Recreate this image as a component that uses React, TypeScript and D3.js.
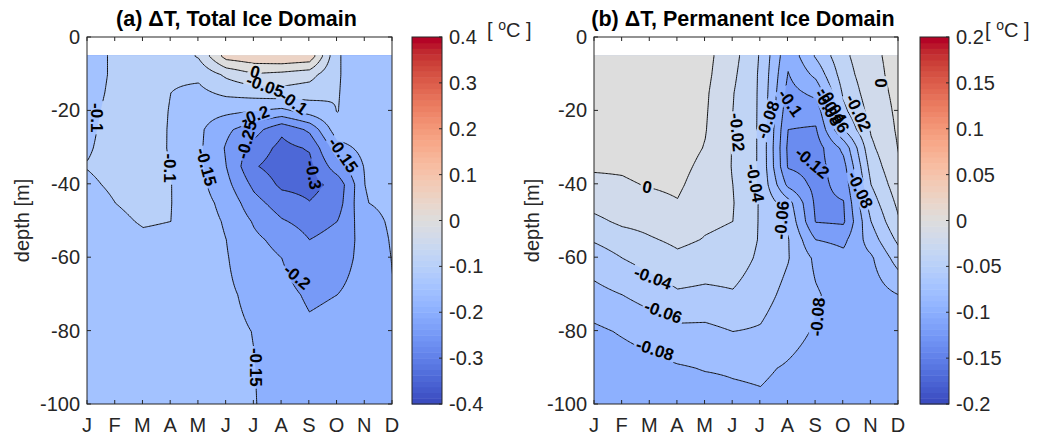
import React, { useMemo } from "react";
import * as d3 from "d3";

// ---------------- data ----------------
const monthLabels = ["J", "F", "M", "A", "M", "J", "J", "A", "S", "O", "N", "D"];
const depthLevels = [5, 10, 15, 20, 25, 30, 35, 40, 45, 50, 55, 60, 70, 80, 90, 100];
const depthTicks = [0, 20, 40, 60, 80, 100];

// (a) ΔT, total ice domain — one row per month (Jan..Dec), values at depthLevels (°C)
const totalIceDT: number[][] = [
  [-0.110, -0.110, -0.108, -0.106, -0.104, -0.102, -0.099, -0.104, -0.110, -0.116, -0.121, -0.125, -0.130, -0.134, -0.137, -0.140],
  [-0.096, -0.096, -0.095, -0.093, -0.092, -0.092, -0.093, -0.096, -0.100, -0.107, -0.114, -0.119, -0.127, -0.132, -0.136, -0.139],
  [-0.085, -0.085, -0.083, -0.082, -0.082, -0.083, -0.084, -0.087, -0.091, -0.097, -0.106, -0.113, -0.122, -0.129, -0.134, -0.137],
  [-0.085, -0.093, -0.100, -0.102, -0.103, -0.103, -0.101, -0.099, -0.099, -0.100, -0.108, -0.115, -0.124, -0.130, -0.134, -0.137],
  [-0.045, -0.090, -0.112, -0.130, -0.140, -0.140, -0.138, -0.135, -0.130, -0.128, -0.127, -0.128, -0.132, -0.135, -0.137, -0.139],
  [0.070, -0.040, -0.090, -0.140, -0.190, -0.205, -0.200, -0.185, -0.165, -0.155, -0.150, -0.147, -0.143, -0.141, -0.140, -0.139],
  [0.085, -0.005, -0.080, -0.150, -0.230, -0.270, -0.295, -0.262, -0.232, -0.205, -0.190, -0.180, -0.160, -0.151, -0.149, -0.148],
  [0.095, -0.015, -0.070, -0.165, -0.290, -0.315, -0.325, -0.310, -0.275, -0.245, -0.215, -0.200, -0.185, -0.175, -0.170, -0.168],
  [0.085, -0.030, -0.080, -0.130, -0.240, -0.295, -0.315, -0.315, -0.298, -0.268, -0.250, -0.235, -0.207, -0.192, -0.185, -0.180],
  [-0.097, -0.097, -0.098, -0.099, -0.120, -0.170, -0.220, -0.285, -0.275, -0.250, -0.235, -0.225, -0.200, -0.185, -0.175, -0.170],
  [-0.120, -0.120, -0.120, -0.122, -0.125, -0.135, -0.146, -0.150, -0.152, -0.170, -0.180, -0.182, -0.180, -0.175, -0.170, -0.168],
  [-0.125, -0.125, -0.125, -0.126, -0.127, -0.129, -0.132, -0.135, -0.138, -0.142, -0.145, -0.148, -0.152, -0.155, -0.157, -0.158],
];

// (b) ΔT, permanent ice domain
const permanentIceDT: number[][] = [
  [0.010, 0.010, 0.010, 0.008, 0.007, 0.005, 0.002, -0.004, -0.013, -0.025, -0.038, -0.050, -0.066, -0.084, -0.093, -0.097],
  [0.011, 0.011, 0.011, 0.010, 0.008, 0.006, 0.002, -0.002, -0.006, -0.016, -0.030, -0.040, -0.060, -0.078, -0.090, -0.096],
  [0.012, 0.012, 0.012, 0.011, 0.010, 0.008, 0.005, 0.001, -0.005, -0.013, -0.022, -0.032, -0.052, -0.072, -0.086, -0.092],
  [0.012, 0.012, 0.012, 0.012, 0.011, 0.009, 0.006, 0.003, -0.001, -0.007, -0.016, -0.024, -0.043, -0.065, -0.082, -0.090],
  [0.006, 0.005, 0.003, 0.002, 0.001, -0.001, -0.005, -0.009, -0.013, -0.017, -0.021, -0.028, -0.045, -0.065, -0.079, -0.090],
  [-0.013, -0.016, -0.019, -0.020, -0.021, -0.021, -0.021, -0.020, -0.019, -0.020, -0.024, -0.029, -0.042, -0.060, -0.078, -0.085],
  [-0.042, -0.043, -0.043, -0.043, -0.043, -0.043, -0.043, -0.043, -0.042, -0.042, -0.042, -0.044, -0.052, -0.062, -0.077, -0.083],
  [-0.095, -0.101, -0.107, -0.113, -0.120, -0.124, -0.122, -0.105, -0.072, -0.064, -0.059, -0.059, -0.066, -0.073, -0.082, -0.087],
  [-0.058, -0.075, -0.095, -0.112, -0.122, -0.130, -0.128, -0.126, -0.124, -0.121, -0.100, -0.084, -0.078, -0.082, -0.088, -0.092],
  [-0.025, -0.030, -0.037, -0.045, -0.060, -0.095, -0.107, -0.114, -0.121, -0.123, -0.105, -0.094, -0.088, -0.088, -0.090, -0.093],
  [-0.004, -0.006, -0.009, -0.013, -0.018, -0.024, -0.032, -0.040, -0.050, -0.060, -0.070, -0.083, -0.090, -0.091, -0.092, -0.094],
  [0.006, 0.006, 0.005, 0.004, 0.003, 0.001, -0.002, -0.008, -0.015, -0.022, -0.035, -0.050, -0.080, -0.088, -0.092, -0.095],
];

const totalIceLevels = [-0.4, -0.35, -0.3, -0.25, -0.2, -0.15, -0.1, -0.05, 0, 0.05, 0.1, 0.15, 0.2, 0.25, 0.3, 0.35, 0.4];
const permanentIceLevels = [-0.2, -0.18, -0.16, -0.14, -0.12, -0.1, -0.08, -0.06, -0.04, -0.02, 0, 0.02, 0.04, 0.06, 0.08, 0.1, 0.12, 0.14, 0.16, 0.18, 0.2];
const totalIceColorTicks = [0.4, 0.3, 0.2, 0.1, 0, -0.1, -0.2, -0.3, -0.4];
const permanentIceColorTicks = [0.2, 0.15, 0.1, 0.05, 0, -0.05, -0.1, -0.15, -0.2];

// contour labels: text, month position, depth, rotation
type Lbl = { text: string; month: number; depth: number; angle: number };
const totalIceLabels: Lbl[] = [
  { text: "0", month: 7.06, depth: 9.6, angle: 15 },
  { text: "-0.05", month: 7.42, depth: 13.4, angle: 20 },
  { text: "-0.1", month: 8.45, depth: 17.9, angle: 35 },
  { text: "-0.2", month: 7.06, depth: 21.5, angle: -20 },
  { text: "-0.25", month: 6.77, depth: 28, angle: -75 },
  { text: "-0.3", month: 9.15, depth: 37.6, angle: 80 },
  { text: "-0.15", month: 5.29, depth: 35.4, angle: 75 },
  { text: "-0.15", month: 10.23, depth: 32.2, angle: 55 },
  { text: "-0.1", month: 1.36, depth: 22, angle: 90 },
  { text: "-0.1", month: 3.99, depth: 35.7, angle: 90 },
  { text: "-0.2", month: 8.57, depth: 65.4, angle: 40 },
  { text: "-0.15", month: 7.06, depth: 90, angle: 90 },
];
const permanentIceLabels: Lbl[] = [
  { text: "0", month: 2.92, depth: 41, angle: 10 },
  { text: "-0.02", month: 6.17, depth: 26, angle: 85 },
  { text: "-0.04", month: 6.82, depth: 39.8, angle: 80 },
  { text: "-0.08", month: 7.3, depth: 22.6, angle: -70 },
  { text: "-0.1", month: 8.09, depth: 18, angle: 55 },
  { text: "-0.12", month: 8.89, depth: 34.3, angle: 40 },
  { text: "-0.08", month: 9.47, depth: 19.3, angle: 60 },
  { text: "-0.04", month: 9.62, depth: 18.6, angle: 60 },
  { text: "-0.06", month: 9.72, depth: 21.2, angle: 60 },
  { text: "-0.02", month: 10.55, depth: 20.7, angle: 65 },
  { text: "0", month: 11.35, depth: 12.5, angle: 90 },
  { text: "-0.08", month: 10.62, depth: 41.7, angle: 65 },
  { text: "-0.06", month: 7.8, depth: 49.9, angle: -85 },
  { text: "-0.08", month: 9.1, depth: 76.3, angle: -85 },
  { text: "-0.04", month: 3.13, depth: 65.7, angle: 20 },
  { text: "-0.06", month: 3.5, depth: 75, angle: 20 },
  { text: "-0.08", month: 3.2, depth: 85.3, angle: 18 },
];

// Moreland cool-warm colour map stops
const coolwarmStops: [number, number, number][] = [
  [59, 76, 192], [68, 90, 204], [77, 104, 215], [87, 117, 225], [98, 130, 234], [108, 142, 241],
  [119, 154, 247], [130, 165, 251], [141, 176, 254], [152, 185, 255], [163, 194, 255], [174, 201, 253],
  [184, 208, 249], [194, 213, 244], [204, 217, 238], [213, 219, 230], [221, 221, 221], [229, 216, 209],
  [236, 211, 197], [241, 204, 184], [245, 196, 173], [247, 187, 160], [247, 177, 148], [247, 166, 135],
  [244, 154, 123], [241, 141, 111], [236, 127, 99], [229, 112, 88], [222, 96, 77], [213, 80, 66],
  [203, 62, 56], [192, 40, 47], [180, 4, 38],
];

// ---------------- helpers ----------------
const NCOL = 64;
function coolwarmAt(t: number) {
  const n = coolwarmStops.length - 1;
  const x = Math.max(0, Math.min(1, t)) * n;
  const i = Math.min(n - 1, Math.floor(x));
  const f = x - i;
  const a = coolwarmStops[i], b = coolwarmStops[i + 1];
  return `rgb(${Math.round(a[0] + (b[0] - a[0]) * f)},${Math.round(a[1] + (b[1] - a[1]) * f)},${Math.round(a[2] + (b[2] - a[2]) * f)})`;
}
function colorFor(v: number, lo: number, hi: number) {
  return coolwarmAt((v - lo) / (hi - lo));
}

function sampleField(cols: number[][], depths: number[]) {
  const m0 = 0.8, dm = 0.05, nx = Math.round((12.2 - 0.8) / dm) + 1;
  const d0 = 4, dd = 0.5, ny = Math.round((101 - 4) / dd) + 1;
  const values = new Array(nx * ny);
  for (let j = 0; j < ny; j++) {
    const depth = Math.max(depths[0], Math.min(depths[depths.length - 1], d0 + j * dd));
    let k = 0;
    while (k < depths.length - 2 && depth > depths[k + 1]) k++;
    const fd = (depth - depths[k]) / (depths[k + 1] - depths[k]);
    for (let i = 0; i < nx; i++) {
      const c = Math.max(0, Math.min(11, m0 + i * dm - 1));
      const c0 = Math.min(10, Math.floor(c));
      const fc = c - c0;
      const v00 = cols[c0][k], v01 = cols[c0][k + 1];
      const v10 = cols[c0 + 1][k], v11 = cols[c0 + 1][k + 1];
      const a = v00 + (v01 - v00) * fd;
      const b = v10 + (v11 - v10) * fd;
      values[j * nx + i] = a + (b - a) * fc;
    }
  }
  return { values, nx, ny, m0, dm, d0, dd };
}

function labelWidth(s: string, size: number) {
  let w = 0;
  for (const ch of s) w += ch === "-" ? 0.333 : ch === "." ? 0.278 : 0.556;
  return w * size;
}

const FONT = "'Liberation Sans', Arial, Helvetica, sans-serif";
const AXC = "#262626";
const TICK_FS = 20;

type PanelProps = {
  id: string;
  x0: number; x1: number; y0: number; y1: number;
  data: number[][];
  levels: number[];
  lo: number; hi: number;
  labels: Lbl[];
  title: string;
  cbX0: number; cbX1: number;
  cbTicks: number[];
  ylabelX: number;
  unitX: number;
};

function Panel(p: PanelProps) {
  const xs = d3.scaleLinear().domain([1, 12]).range([p.x0, p.x1]);
  const ys = d3.scaleLinear().domain([0, 100]).range([p.y0, p.y1]);
  const field = useMemo(() => sampleField(p.data, depthLevels), [p.data]);
  const contours = useMemo(
    () => d3.contours().size([field.nx, field.ny]).thresholds(p.levels)(field.values),
    [field, p.levels]
  );
  const path = d3.geoPath(
    d3.geoTransform({
      point(x: number, y: number) {
        (this as any).stream.point(xs(field.m0 + x * field.dm), ys(field.d0 + y * field.dd));
      },
    })
  );
  const cx0 = xs(1), cx1 = xs(12), cy0 = ys(depthLevels[0]), cy1 = ys(100);
  const LF = 17;
  const cbScale = d3.scaleLinear().domain([p.lo, p.hi]).range([p.y1, p.y0]);
  const cbStep = (p.y1 - p.y0) / NCOL;
  const fmt = (v: number) => String(Math.round(v * 1000) / 1000);

  return (
    <g>
      <defs>
        <clipPath id={`clip-${p.id}`}>
          <rect x={cx0} y={cy0} width={cx1 - cx0} height={cy1 - cy0} />
        </clipPath>
        <mask id={`mask-${p.id}`} maskUnits="userSpaceOnUse" x={0} y={0} width={1049} height={438}>
          <rect x={0} y={0} width={1049} height={438} fill="white" />
          {p.labels.map((l, i) => {
            const w = labelWidth(l.text, LF) + 4;
            const h = LF * 0.9;
            return (
              <rect
                key={i}
                x={-w / 2}
                y={-h / 2}
                width={w}
                height={h}
                fill="black"
                transform={`translate(${xs(l.month)},${ys(l.depth)}) rotate(${l.angle})`}
              />
            );
          })}
        </mask>
      </defs>
      {/* filled contours */}
      <g clipPath={`url(#clip-${p.id})`}>
        {contours.map((c, i) => (
          <path key={i} d={path(c as any) || ""} fill={colorFor(c.value, p.lo, p.hi)} stroke="none" />
        ))}
        <g mask={`url(#mask-${p.id})`}>
          {contours.map((c, i) => (
            <path key={i} d={path(c as any) || ""} fill="none" stroke="#111" strokeWidth={1} strokeLinejoin="round" />
          ))}
        </g>
      </g>
      {/* contour labels */}
      {p.labels.map((l, i) => (
        <text
          key={i}
          transform={`translate(${xs(l.month)},${ys(l.depth)}) rotate(${l.angle})`}
          textAnchor="middle"
          dominantBaseline="central"
          fontFamily={FONT}
          fontWeight="bold"
          fontSize={LF}
          fill="#000"
        >
          {l.text}
        </text>
      ))}
      {/* axes box & ticks */}
      <rect x={p.x0} y={p.y0} width={p.x1 - p.x0} height={p.y1 - p.y0} fill="none" stroke={AXC} strokeWidth={1} />
      {monthLabels.map((m, i) => (
        <g key={i}>
          <line x1={xs(i + 1)} x2={xs(i + 1)} y1={p.y1} y2={p.y1 - 4} stroke={AXC} />
          <line x1={xs(i + 1)} x2={xs(i + 1)} y1={p.y0} y2={p.y0 + 4} stroke={AXC} />
          <text x={xs(i + 1)} y={p.y1 + 28} textAnchor="middle" fontFamily={FONT} fontSize={TICK_FS} fill={AXC}>
            {m}
          </text>
        </g>
      ))}
      {depthTicks.map((d, i) => (
        <g key={i}>
          <line x1={p.x0} x2={p.x0 + 4} y1={ys(d)} y2={ys(d)} stroke={AXC} />
          <line x1={p.x1} x2={p.x1 - 4} y1={ys(d)} y2={ys(d)} stroke={AXC} />
          <text x={p.x0 - 7} y={ys(d)} textAnchor="end" dominantBaseline="central" fontFamily={FONT} fontSize={TICK_FS} fill={AXC}>
            {d === 0 ? "0" : `-${d}`}
          </text>
        </g>
      ))}
      <text
        transform={`translate(${p.ylabelX},${(p.y0 + p.y1) / 2}) rotate(-90)`}
        textAnchor="middle"
        dominantBaseline="central"
        fontFamily={FONT}
        fontSize={TICK_FS}
        fill={AXC}
      >
        depth [m]
      </text>
      <text x={(p.x0 + p.x1) / 2 - 3} y={26} textAnchor="middle" fontFamily={FONT} fontWeight="bold" fontSize={21.5} fill="#000">
        {p.title}
      </text>
      {/* colorbar */}
      {d3.range(NCOL).map((i) => (
        <rect
          key={i}
          x={p.cbX0}
          y={p.y1 - (i + 1) * cbStep}
          width={p.cbX1 - p.cbX0}
          height={cbStep + 0.5}
          fill={coolwarmAt(i / (NCOL - 1))}
        />
      ))}
      <rect x={p.cbX0} y={p.y0} width={p.cbX1 - p.cbX0} height={p.y1 - p.y0} fill="none" stroke={AXC} strokeWidth={1} />
      {p.cbTicks.map((t, i) => (
        <g key={i}>
          <line x1={p.cbX1} x2={p.cbX1 - 3} y1={cbScale(t)} y2={cbScale(t)} stroke={AXC} />
          <text x={p.cbX1 + 7} y={cbScale(t)} dominantBaseline="central" fontFamily={FONT} fontSize={TICK_FS} fill={AXC}>
            {fmt(t)}
          </text>
        </g>
      ))}
      <text x={p.unitX} y={37} fontFamily={FONT} fontSize={TICK_FS} fill={AXC}>
        {"[ "}
        <tspan dy={-7} fontSize={14}>o</tspan>
        <tspan dy={7}>{"C ]"}</tspan>
      </text>
    </g>
  );
}

export default function App() {
  return (
    <svg
      width={1049}
      height={438}
      style={{ position: "absolute", left: 0, top: 0, background: "#fff" }}
      xmlns="http://www.w3.org/2000/svg"
    >
      <rect x={0} y={0} width={1049} height={438} fill="#fff" />
      <Panel
        id="a"
        x0={87} x1={392} y0={37} y1={404}
        data={totalIceDT}
        levels={totalIceLevels}
        lo={-0.4} hi={0.4}
        labels={totalIceLabels}
        title="(a) ΔT, Total Ice Domain"
        cbX0={412} cbX1={442}
        cbTicks={totalIceColorTicks}
        ylabelX={22}
        unitX={487}
      />
      <Panel
        id="b"
        x0={594} x1={898} y0={37} y1={404}
        data={permanentIceDT}
        levels={permanentIceLevels}
        lo={-0.2} hi={0.2}
        labels={permanentIceLabels}
        title="(b) ΔT, Permanent Ice Domain"
        cbX0={920} cbX1={949}
        cbTicks={permanentIceColorTicks}
        ylabelX={532}
        unitX={985}
      />
    </svg>
  );
}
